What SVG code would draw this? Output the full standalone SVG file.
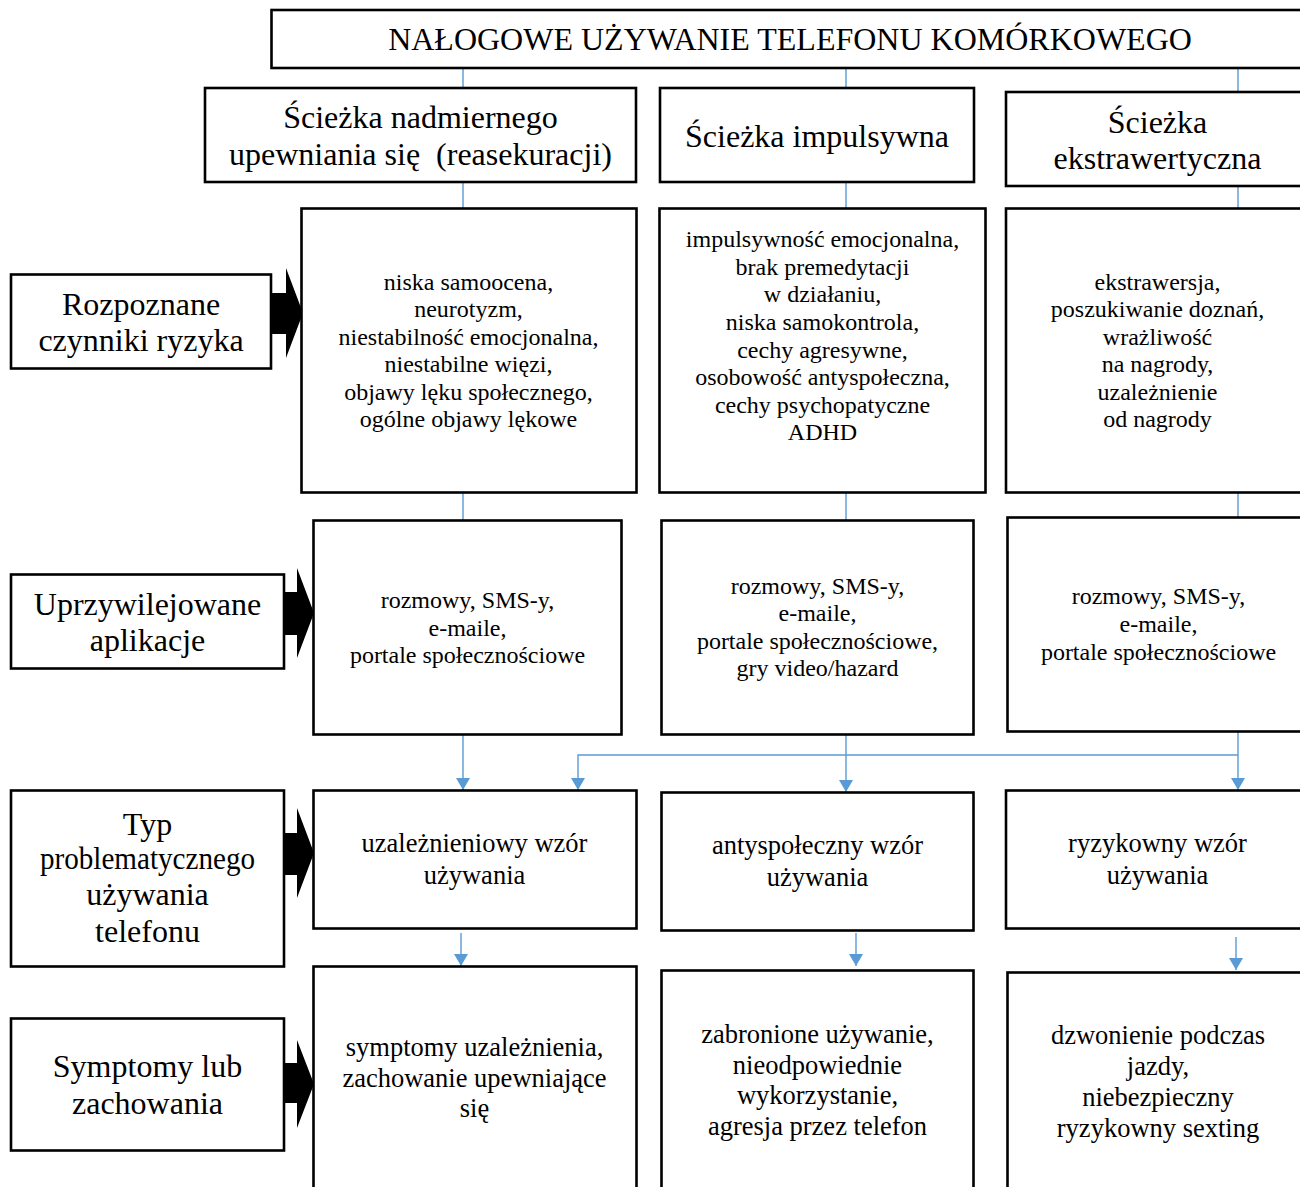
<svg xmlns="http://www.w3.org/2000/svg" width="1300" height="1187" viewBox="0 0 1300 1187">
<style>
.box{fill:#fff;stroke:#000;stroke-width:2.6}
text{font-family:"Liberation Serif","Times New Roman",serif;fill:#000;text-anchor:middle}
.t32{font-size:32px}
.t24{font-size:24px}
.t26{font-size:26.5px}
.pre{white-space:pre}
.conn{stroke:#5B9BD5;stroke-width:1.4;fill:none}
.blk{fill:#000;stroke:none}
</style>
<defs>
<marker id="ah" viewBox="0 0 12 14" refX="12" refY="7" markerWidth="12" markerHeight="14" orient="auto" markerUnits="userSpaceOnUse">
<path d="M0,0 L12,7 L0,14 z" fill="#5B9BD5"/>
</marker>
</defs>
<rect width="1300" height="1187" fill="#fff"/>

<g id="connectors">
<path class="conn" d="M463,68 V88 M463,183 V208 M463,493 V520"/>
<path class="conn" d="M846,68 V88 M846,182 V208 M846,493 V520"/>
<path class="conn" d="M1238,68 V92 M1238,186 V208 M1238,493 V517"/>
<path class="conn" d="M463,734 V790" marker-end="url(#ah)"/>
<path class="conn" d="M846,734 V792" marker-end="url(#ah)"/>
<path class="conn" d="M1238,732 V790" marker-end="url(#ah)"/>
<path class="conn" d="M1238,755 H578 V790" marker-end="url(#ah)"/>
<path class="conn" d="M461,933 V966" marker-end="url(#ah)"/>
<path class="conn" d="M856,933 V966" marker-end="url(#ah)"/>
<path class="conn" d="M1236,937 V970" marker-end="url(#ah)"/>
<polygon class="blk" points="270,293 286,293 286,268 303,313 286,358 286,334 270,334"/>
<polygon class="blk" points="283,592 297,592 297,568 314,613 297,658 297,635 283,635"/>
<polygon class="blk" points="283,833 297,833 297,808 314,853 297,898 297,875 283,875"/>
<polygon class="blk" points="283,1063 297,1063 297,1040 314,1084 297,1128 297,1103 283,1103"/>
</g>

<g id="title">
<rect class="box" x="271.5" y="10" width="1040" height="58"/>
<text class="t32" x="790" y="50">NAŁOGOWE UŻYWANIE TELEFONU KOMÓRKOWEGO</text>
</g>

<g id="path-reassurance">
<rect class="box" x="205" y="88" width="431" height="94"/>
<text class="t32" x="420.5" y="128">Ścieżka nadmiernego</text>
<text class="t32 pre" x="420.5" y="165">upewniania się  (reasekuracji)</text>
</g>
<g id="path-impulsive">
<rect class="box" x="660" y="88" width="314" height="94"/>
<text class="t32" x="817" y="147">Ścieżka impulsywna</text>
</g>
<g id="path-extravert">
<rect class="box" x="1006" y="92" width="310" height="94"/>
<text class="t32" x="1157.5" y="133">Ścieżka</text>
<text class="t32" x="1157.5" y="169">ekstrawertyczna</text>
</g>

<g id="label-risk">
<rect class="box" x="11" y="274.5" width="260" height="94"/>
<text class="t32" x="141" y="315">Rozpoznane</text>
<text class="t32" x="141" y="351">czynniki ryzyka</text>
</g>
<g id="risk-1">
<rect class="box" x="301.5" y="208.5" width="335" height="284"/>
<text class="t24" x="468.5"><tspan x="468.5" y="290">niska samoocena,</tspan><tspan x="468.5" y="317">neurotyzm,</tspan><tspan x="468.5" y="345">niestabilność emocjonalna,</tspan><tspan x="468.5" y="372">niestabilne więzi,</tspan><tspan x="468.5" y="400">objawy lęku społecznego,</tspan><tspan x="468.5" y="427">ogólne objawy lękowe</tspan></text>
</g>
<g id="risk-2">
<rect class="box" x="659.5" y="208.5" width="326" height="284"/>
<text class="t24" x="822.5"><tspan x="822.5" y="247">impulsywność emocjonalna,</tspan><tspan x="822.5" y="275">brak premedytacji</tspan><tspan x="822.5" y="302">w działaniu,</tspan><tspan x="822.5" y="330">niska samokontrola,</tspan><tspan x="822.5" y="358">cechy agresywne,</tspan><tspan x="822.5" y="385">osobowość antyspołeczna,</tspan><tspan x="822.5" y="413">cechy psychopatyczne</tspan><tspan x="822.5" y="440">ADHD</tspan></text>
</g>
<g id="risk-3">
<rect class="box" x="1006" y="208.5" width="310" height="284"/>
<text class="t24" x="1157.5"><tspan x="1157.5" y="290">ekstrawersja,</tspan><tspan x="1157.5" y="317">poszukiwanie doznań,</tspan><tspan x="1157.5" y="345">wrażliwość</tspan><tspan x="1157.5" y="372">na nagrody,</tspan><tspan x="1157.5" y="400">uzależnienie</tspan><tspan x="1157.5" y="427">od nagrody</tspan></text>
</g>

<g id="label-apps">
<rect class="box" x="11" y="574.5" width="273" height="94"/>
<text class="t32" x="147.5" y="615">Uprzywilejowane</text>
<text class="t32" x="147.5" y="651">aplikacje</text>
</g>
<g id="apps-1">
<rect class="box" x="313.5" y="520.5" width="308" height="214"/>
<text class="t24" x="467.5"><tspan x="467.5" y="608">rozmowy, SMS-y,</tspan><tspan x="467.5" y="636">e-maile,</tspan><tspan x="467.5" y="663">portale społecznościowe</tspan></text>
</g>
<g id="apps-2">
<rect class="box" x="661.5" y="520.5" width="312" height="214"/>
<text class="t24" x="817.5"><tspan x="817.5" y="594">rozmowy, SMS-y,</tspan><tspan x="817.5" y="621">e-maile,</tspan><tspan x="817.5" y="649">portale społecznościowe,</tspan><tspan x="817.5" y="676">gry video/hazard</tspan></text>
</g>
<g id="apps-3">
<rect class="box" x="1007.5" y="517.5" width="310" height="214"/>
<text class="t24" x="1158.5"><tspan x="1158.5" y="604">rozmowy, SMS-y,</tspan><tspan x="1158.5" y="632">e-maile,</tspan><tspan x="1158.5" y="660">portale społecznościowe</tspan></text>
</g>

<g id="label-type">
<rect class="box" x="11" y="790.5" width="273" height="176"/>
<text class="t32" x="147.5" y="835">Typ</text>
<text class="t32" x="147.5" y="869" textLength="215" lengthAdjust="spacingAndGlyphs">problematycznego</text>
<text class="t32" x="147.5" y="905">używania</text>
<text class="t32" x="147.5" y="942">telefonu</text>
</g>
<g id="type-1">
<rect class="box" x="313.5" y="790.5" width="323" height="138"/>
<text class="t26" x="474.5"><tspan x="474.5" y="852">uzależnieniowy wzór</tspan><tspan x="474.5" y="884">używania</tspan></text>
</g>
<g id="type-2">
<rect class="box" x="661.5" y="792.5" width="312" height="138"/>
<text class="t26" x="817.5"><tspan x="817.5" y="854">antyspołeczny wzór</tspan><tspan x="817.5" y="886">używania</tspan></text>
</g>
<g id="type-3">
<rect class="box" x="1006" y="790.5" width="310" height="138"/>
<text class="t26" x="1157.5"><tspan x="1157.5" y="852">ryzykowny wzór</tspan><tspan x="1157.5" y="884">używania</tspan></text>
</g>

<g id="label-symptoms">
<rect class="box" x="11" y="1018.5" width="273" height="132"/>
<text class="t32" x="147.5" y="1077">Symptomy lub</text>
<text class="t32" x="147.5" y="1114">zachowania</text>
</g>
<g id="symptoms-1">
<rect class="box" x="313.5" y="966.5" width="323" height="240"/>
<text class="t26" x="474.5"><tspan x="474.5" y="1056">symptomy uzależnienia,</tspan><tspan x="474.5" y="1087">zachowanie upewniające</tspan><tspan x="474.5" y="1117">się</tspan></text>
</g>
<g id="symptoms-2">
<rect class="box" x="661.5" y="970.5" width="312" height="240"/>
<text class="t26" x="817.5"><tspan x="817.5" y="1043">zabronione używanie,</tspan><tspan x="817.5" y="1074">nieodpowiednie</tspan><tspan x="817.5" y="1104">wykorzystanie,</tspan><tspan x="817.5" y="1135">agresja przez telefon</tspan></text>
</g>
<g id="symptoms-3">
<rect class="box" x="1007.5" y="972.5" width="310" height="240"/>
<text class="t26" x="1158"><tspan x="1158" y="1044">dzwonienie podczas</tspan><tspan x="1158" y="1075">jazdy,</tspan><tspan x="1158" y="1106">niebezpieczny</tspan><tspan x="1158" y="1137">ryzykowny sexting</tspan></text>
</g>
</svg>
